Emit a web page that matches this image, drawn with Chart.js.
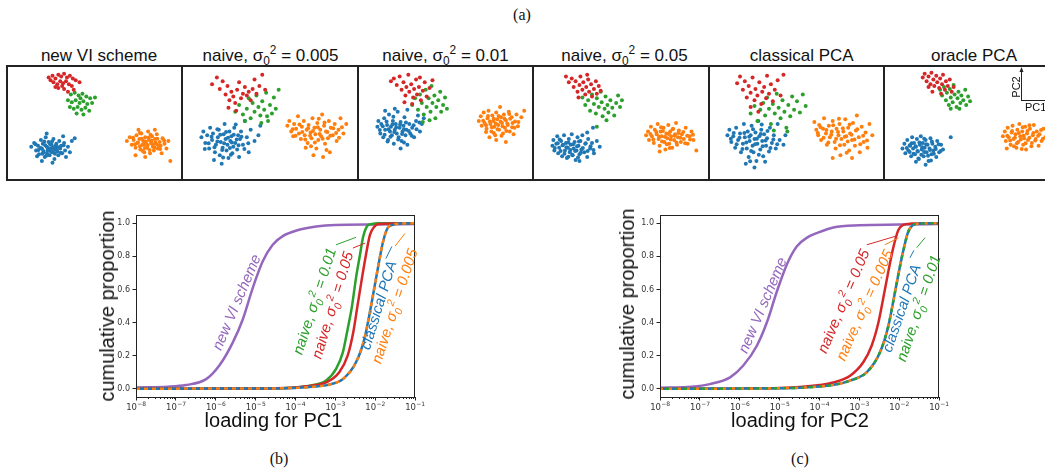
<!DOCTYPE html>
<html>
<head>
<meta charset="utf-8">
<script src="https://cdn.jsdelivr.net/npm/chart.js"></script>
<style>
	html, body { margin: 0; padding: 0; background: #fff; }
	body { width: 1045px; height: 471px; overflow: hidden; position: relative; font-family: 'Liberation Sans', Arial, sans-serif; color: #111; }
	.abs { position: absolute; white-space: nowrap; line-height: 1; }
	.cap { font-family: 'Liberation Serif', 'Times New Roman', serif; font-size: 16px; transform: translate(-50%, -50%); }
	.title { font-size: 17px; transform: translateX(-50%); }
	.panel { position: absolute; top: 65px; width: 177.4px; height: 116px; border: 2px solid #222; box-sizing: border-box; }
	.panel canvas { position: absolute; left: 0; top: 0; }
	.axt { font-size: 20px; transform: translate(-50%, -50%); }
	.lab { font-size: 15px; font-style: italic; }
	sub, sup { font-size: 0.7em; line-height: 0; }
	.curve { position: absolute; top: 205px; }
</style>
</head>
<body>

<div class="abs cap" style="left:522px;top:15px">(a)</div>

<div class="abs title" style="left:99px;top:47px">new VI scheme</div>
<div class="abs title" style="left:270.5px;top:47px">naive, σ<sub>0</sub><sup>2</sup> = 0.005</div>
<div class="abs title" style="left:445.5px;top:47px">naive, σ<sub>0</sub><sup>2</sup> = 0.01</div>
<div class="abs title" style="left:624.5px;top:47px">naive, σ<sub>0</sub><sup>2</sup> = 0.05</div>
<div class="abs title" style="left:801.7px;top:47px">classical PCA</div>
<div class="abs title" style="left:974px;top:47px">oracle PCA</div>

<div id="panels"></div>

<!-- small PC1 / PC2 axes glyph in the oracle panel -->
<svg class="abs" style="left:0;top:0" width="1045" height="200">
	<line x1="1021.5" y1="70" x2="1021.5" y2="101" stroke="#222" stroke-width="1"/>
	<line x1="1021" y1="100.5" x2="1045" y2="100.5" stroke="#222" stroke-width="1"/>
	<polygon points="1021.5,67 1019.5,72 1023.5,72" fill="#222"/>
</svg>
<div class="abs" style="left:1015.5px;top:87px;font-size:11px;transform:translate(-50%,-50%) rotate(-90deg)">PC2</div>
<div class="abs" style="left:1025px;top:102px;font-size:11px">PC1</div>

<canvas id="pc1" class="curve" style="left:100px" width="330" height="215"></canvas>
<canvas id="pc2" class="curve" style="left:624px" width="330" height="215"></canvas>

<div class="abs axt" style="left:106.5px;top:306px;transform:translate(-50%,-50%) rotate(-90deg)">cumulative proportion</div>
<div class="abs axt" style="left:273.5px;top:420px">loading for PC1</div>
<div class="abs axt" style="left:627px;top:304px;transform:translate(-50%,-50%) rotate(-90deg)">cumulative proportion</div>
<div class="abs axt" style="left:800px;top:420px">loading for PC2</div>

<!-- curve labels (b) -->
<div class="abs lab" style="left:236px;top:302px;color:#9467bd;transform:translate(-50%,-50%) rotate(-67deg)">new VI scheme</div>
<div class="abs lab" style="left:313.5px;top:301px;color:#2ca02c;transform:translate(-50%,-50%) rotate(-72deg)">naive, σ<sub>0</sub><sup>2</sup> = 0.01</div>
<div class="abs lab" style="left:331.8px;top:305px;color:#d62728;transform:translate(-50%,-50%) rotate(-73deg)">naive, σ<sub>0</sub><sup>2</sup> = 0.05</div>
<div class="abs lab" style="left:377.7px;top:304.5px;color:#1f77b4;transform:translate(-50%,-50%) rotate(-73deg)">classical PCA</div>
<div class="abs lab" style="left:394.3px;top:306px;color:#ff7f0e;transform:translate(-50%,-50%) rotate(-72deg)">naive, σ<sub>0</sub><sup>2</sup> = 0.005</div>

<!-- curve labels (c) -->
<div class="abs lab" style="left:761.7px;top:305px;color:#9467bd;transform:translate(-50%,-50%) rotate(-67deg)">new VI scheme</div>
<div class="abs lab" style="left:842.5px;top:301px;color:#d62728;transform:translate(-50%,-50%) rotate(-67deg)">naive, σ<sub>0</sub><sup>2</sup> = 0.05</div>
<div class="abs lab" style="left:864px;top:305px;color:#ff7f0e;transform:translate(-50%,-50%) rotate(-66deg)">naive, σ<sub>0</sub><sup>2</sup> = 0.005</div>
<div class="abs lab" style="left:900.8px;top:307.8px;color:#1f77b4;transform:translate(-50%,-50%) rotate(-71deg)">classical PCA</div>
<div class="abs lab" style="left:917.5px;top:307.5px;color:#2ca02c;transform:translate(-50%,-50%) rotate(-71.5deg)">naive, σ<sub>0</sub><sup>2</sup> = 0.01</div>

<div class="abs cap" style="left:279px;top:459px">(b)</div>
<div class="abs cap" style="left:800px;top:459px">(c)</div>

<script>
// ***** COLOURS *****
const BLUE = '#1f77b4', ORANGE = '#ff7f0e', GREEN = '#2ca02c', RED = '#d62728', PURPLE = '#9467bd'

// ***** SCATTER DATA (a) *****
// one string per panel: new VI, naive .005, naive .01, naive .05, classical PCA, oracle PCA
// points are "pc1 pc2" pairs, pc2 grows downward
const redClusters = [
	'40 9,44 7,47 10,50 6,53 8,56 5,59 9,62 7,65 10,68 12,72 14,45 14,49 16,52 13,55 15,58 13,61 16,64 18,50 20,56 21,60 24,47 19,42 12,66 22,54 18',
	'28 16,33 9,36 21,39 13,42 27,44 18,46 33,48 24,50 29,52 36,54 22,56 14,58 31,60 26,62 19,64 28,66 24,68 33,70 21,72 11,74 26,77 18,80 6,83 22,45 41,53 44',
	'31 13,34 10,37 17,40 8,42 22,44 14,46 28,47 19,49 6,50 24,52 16,54 30,55 21,57 11,58 27,60 19,62 33,64 23,66 14,68 29,71 20,74 12,45 35,53 37,61 9',
	'31 8,34 14,37 10,39 19,41 13,43 24,45 17,46 8,48 22,49 14,51 27,52 19,54 11,55 24,57 16,58 29,60 21,62 13,63 26,65 18,67 23,44 30,53 6',
	'26 15,29 8,32 22,34 13,36 30,38 18,40 25,42 9,44 33,45 21,47 28,49 14,51 37,52 24,54 19,56 31,57 7,59 26,61 16,63 34,65 22,68 12,71 28,74 6,40 40,48 45',
	'37 9,39 5,41 13,43 8,45 16,46 4,48 11,49 18,51 7,52 14,54 20,55 10,57 16,58 6,60 22,61 13,63 18,65 11,67 24,69 19,47 24,56 26,43 19',
]
const greenClusters = [
	'63 27,67 25,71 28,75 26,79 29,83 31,88 30,60 33,64 35,68 33,72 36,76 34,80 37,85 36,62 40,66 42,70 40,74 43,78 41,82 44,69 47,76 48,73 31',
	'52 45,56 38,60 48,64 42,66 31,68 52,70 36,72 45,74 28,76 40,78 49,80 34,82 43,84 25,86 55,88 38,90 47,92 30,94 42,97 22,79 57,62 55,85 50',
	'53 38,56 31,59 43,61 27,63 36,65 48,67 22,68 40,70 31,72 45,73 18,74 36,76 28,77 52,78 40,80 33,82 24,83 45,85 38,87 30,89 42,64 56,71 54',
	'48 30,51 38,54 33,56 44,58 27,60 37,62 47,63 31,65 40,67 24,68 35,69 50,71 42,72 29,74 38,75 46,77 33,79 41,81 49,83 36,85 28,87 40,89 33,63 61,73 54',
	'40 47,44 39,47 55,50 43,53 36,55 49,57 30,59 42,61 58,63 37,65 47,67 26,69 41,71 52,73 33,75 45,77 62,79 38,81 50,83 29,85 43,88 34,91 46,94 27,97 39,64 65,78 66',
	'55 22,57 28,59 19,61 33,62 25,64 38,65 21,66 30,68 35,69 17,70 27,72 40,73 31,74 24,76 36,77 28,79 33,81 22,82 38,84 29,86 34,66 42,75 42',
]
const blueClusters = [
	'22 82,25 78,27 86,29 81,30 90,32 75,33 84,34 79,35 88,36 93,37 72,38 82,39 86,40 77,41 91,42 84,43 80,44 88,45 74,46 95,47 83,48 79,49 87,50 91,51 76,52 84,53 81,54 89,56 78,57 86,58 93,60 82,62 88,64 76,67 73,28 92,33 97,44 99,38 68,55 71',
	'17 72,19 66,21 78,23 70,25 84,26 62,28 75,29 68,31 88,32 80,34 72,35 64,36 91,37 77,39 83,40 69,41 58,42 74,43 86,44 80,45 94,46 66,47 76,48 71,49 89,50 82,51 62,52 78,54 85,55 70,56 93,57 74,58 66,60 80,62 55,64 72,66 88,68 64,72 76,76 70,78 60,38 100,30 96',
	'17 61,18 55,20 68,21 58,23 72,24 52,25 64,27 59,28 75,29 48,30 66,31 61,32 70,33 55,34 79,35 64,36 58,37 68,38 45,39 72,40 62,41 56,42 76,43 66,44 60,45 51,46 70,47 64,48 80,50 58,51 68,53 62,55 72,57 55,59 49,61 66,63 58,65 52,25 44,41 84,48 43,35 42',
	'17 81,18 75,19 86,21 79,22 71,23 89,24 83,26 76,27 92,28 80,29 70,30 86,31 78,32 94,33 83,34 74,35 88,36 80,37 69,38 91,39 84,40 77,41 96,42 86,43 72,44 81,45 90,46 76,47 85,48 70,50 88,51 79,53 93,54 74,56 84,58 78,60 89,63 76,66 82,45 97,53 67,59 62',
	'16 70,18 64,20 77,22 71,24 83,25 62,27 75,29 68,30 88,32 79,33 58,34 72,36 84,37 66,38 93,39 76,40 70,41 60,42 81,43 88,44 74,45 67,46 97,47 79,48 55,49 71,50 85,51 64,52 76,53 92,54 69,56 81,57 73,59 87,60 62,62 78,64 70,66 84,68 58,70 75,74 80,76 70,44 104,35 100,55 98',
	'16 84,18 79,19 89,21 75,22 86,24 81,25 92,26 72,27 84,28 78,29 90,30 82,31 74,32 87,33 95,34 80,35 71,36 85,37 78,38 92,39 83,40 75,41 88,42 80,43 97,44 84,45 73,46 90,47 79,48 86,50 82,51 93,52 76,54 88,56 80,58 85,66 72,40 101,30 98',
]
// extra points in the dense middle of the blue blobs
const blueCores = [
	'31.5 83.5,34.5 86.5,36.5 80.5,38.5 89.5,39.5 83.5,41.5 79.5,42.5 87.5,44.5 82.5,45.5 85.5,47.5 80.5,35.5 76.5,37.5 91.5,40.5 85.5,43.5 76.5,46.5 89.5,48.5 85.5,33.5 89.5,29.5 85.5,50.5 82.5,52.5 88.5,26.5 79.5,55.5 80.5',
	'24.5 78.5,27.5 71.5,30.5 82.5,33.5 76.5,36.5 69.5,38.5 85.5,40.5 78.5,42.5 66.5,44.5 72.5,46.5 83.5,48.5 77.5,50.5 69.5,53.5 74.5,55.5 80.5,58.5 71.5,61.5 84.5,39.5 93.5,47.5 90.5,33.5 63.5,52.5 58.5,65.5 78.5,20.5 84.5',
	'19.5 64.5,22.5 60.5,24.5 69.5,26.5 55.5,28.5 63.5,30.5 71.5,32.5 58.5,34.5 66.5,36.5 61.5,38.5 74.5,40.5 58.5,42.5 68.5,44.5 63.5,46.5 56.5,49.5 65.5,52.5 70.5,54.5 59.5,57.5 63.5,33.5 50.5,44.5 77.5,60.5 56.5,27.5 76.5',
	'19.5 83.5,22.5 78.5,25.5 86.5,27.5 80.5,29.5 89.5,31.5 82.5,33.5 77.5,35.5 85.5,37.5 90.5,38.5 79.5,40.5 86.5,42.5 81.5,44.5 76.5,46.5 88.5,48.5 83.5,51.5 78.5,53.5 86.5,56.5 81.5,59.5 85.5,33.5 92.5,43.5 93.5,24.5 74.5',
	'19.5 73.5,22.5 67.5,25.5 79.5,28.5 72.5,31.5 84.5,33.5 67.5,35.5 77.5,38.5 71.5,40.5 86.5,42.5 63.5,44.5 79.5,46.5 73.5,48.5 90.5,50.5 68.5,52.5 81.5,55.5 75.5,57.5 65.5,60.5 83.5,63.5 74.5,67.5 79.5,39.5 97.5,51.5 58.5',
	'20.5 83.5,23.5 87.5,25.5 78.5,27.5 89.5,29.5 81.5,31.5 86.5,33.5 77.5,35.5 90.5,36.5 82.5,38.5 87.5,40.5 79.5,42.5 91.5,44.5 85.5,46.5 76.5,48.5 89.5,50.5 84.5,53.5 79.5,55.5 86.5,32.5 94.5,45.5 96.5,38.5 73.5,23.5 80.5',
]
const orangeClusters = [
	'121 76,124 72,126 80,128 75,130 83,131 70,132 78,134 74,135 85,136 68,137 80,138 76,139 88,140 72,141 79,142 83,143 66,144 75,145 89,146 78,147 71,148 82,149 86,150 74,151 79,152 69,153 84,155 77,156 81,158 73,160 79,162 84,164 76,130 91,166 97,140 93,157 89,133 64,150 64',
	'106 60,108 55,110 66,112 71,113 58,115 63,117 50,118 68,120 74,121 61,123 55,124 70,126 64,127 78,128 59,130 67,131 73,132 52,134 62,135 69,136 84,137 57,138 75,140 64,141 71,142 48,144 60,145 79,146 66,148 73,149 55,150 88,151 62,153 70,155 58,157 76,159 64,161 52,164 68,167 58,133 91,143 93,125 83',
	'122 55,124 50,125 60,127 46,128 57,130 63,131 52,132 44,134 58,135 66,136 49,137 55,138 61,139 70,140 46,141 53,142 59,143 64,144 40,145 51,146 57,147 68,148 48,149 62,150 54,152 59,153 45,154 66,156 51,157 57,159 62,161 48,163 56,166 51,169 44,140 75,133 72,150 77,158 69',
	'114 70,116 66,117 75,119 61,120 71,122 78,123 64,125 69,126 58,127 74,128 81,129 66,130 71,132 62,133 77,134 85,135 68,136 73,137 59,138 79,139 66,140 71,141 83,142 63,143 75,144 69,145 57,146 80,147 72,148 65,150 77,151 69,153 74,155 62,157 79,159 71,161 66,163 75,166 86,128 87',
	'106 56,108 64,110 70,111 59,113 75,115 63,116 52,118 68,119 80,121 60,122 72,124 66,125 55,127 77,128 84,129 63,131 70,132 58,133 91,134 74,136 66,137 80,138 53,139 71,141 62,142 86,143 68,145 75,146 57,148 81,149 65,150 49,152 72,153 88,155 61,157 77,159 67,161 83,163 58,166 70,125 94,145 94',
	'120 71,122 66,123 76,125 62,126 72,128 80,129 67,130 60,131 74,133 69,134 83,135 64,136 77,137 58,138 71,140 66,141 80,142 73,143 61,144 85,145 68,146 75,148 63,150 78,151 70,152 59,154 74,155 66,157 81,158 69,160 76,162 63,164 72,167 79,170 68,173 74,124 84',
]
const orangeCores = [
	'132.5 77.5,134.5 81.5,136.5 73.5,138.5 79.5,139.5 83.5,140.5 76.5,142.5 80.5,143.5 72.5,144.5 85.5,146.5 75.5,147.5 79.5,149.5 82.5,150.5 77.5,152.5 73.5,153.5 80.5,137.5 86.5,145.5 69.5,129.5 79.5,155.5 84.5,159.5 75.5,127.5 72.5,134.5 67.5',
	'111.5 63.5,114.5 70.5,118.5 58.5,121.5 66.5,124.5 74.5,127.5 62.5,129.5 70.5,132.5 65.5,134.5 77.5,137.5 61.5,139.5 68.5,142.5 73.5,144.5 56.5,147.5 66.5,150.5 70.5,153.5 62.5,156.5 67.5,159.5 72.5,130.5 81.5,146.5 85.5,138.5 52.5,162.5 61.5',
	'126.5 54.5,129.5 59.5,131.5 49.5,133.5 55.5,135.5 61.5,137.5 52.5,139.5 57.5,141.5 63.5,142.5 49.5,144.5 55.5,146.5 60.5,148.5 52.5,150.5 65.5,151.5 57.5,154.5 52.5,156.5 61.5,159.5 55.5,162.5 60.5,137.5 67.5,145.5 70.5,153.5 47.5,129.5 66.5',
	'118.5 68.5,121.5 74.5,124.5 66.5,127.5 71.5,130.5 76.5,131.5 65.5,133.5 71.5,135.5 79.5,137.5 68.5,139.5 74.5,141.5 63.5,143.5 70.5,145.5 77.5,147.5 67.5,149.5 72.5,152.5 66.5,154.5 78.5,156.5 70.5,159.5 74.5,162.5 69.5,138.5 83.5,129.5 61.5',
	'109.5 67.5,112.5 61.5,115.5 72.5,118.5 64.5,120.5 77.5,123.5 69.5,125.5 59.5,128.5 73.5,130.5 66.5,132.5 80.5,135.5 62.5,137.5 71.5,140.5 76.5,142.5 58.5,144.5 69.5,147.5 74.5,150.5 63.5,153.5 79.5,156.5 70.5,160.5 75.5,139.5 88.5,131.5 52.5',
	'124.5 70.5,127.5 75.5,129.5 65.5,132.5 72.5,134.5 78.5,136.5 67.5,138.5 74.5,140.5 61.5,141.5 70.5,143.5 78.5,145.5 65.5,147.5 72.5,149.5 81.5,151.5 67.5,153.5 75.5,156.5 70.5,159.5 64.5,161.5 73.5,165.5 70.5,147.5 59.5,139.5 84.5,131.5 81.5',
]

// ***** CURVE DATA (b) and (c) *****
// x values are log10(loading), y is cumulative proportion
const tickExps = [-8, -7, -6, -5, -4, -3, -2, -1]
const yTicks = [0, 0.2, 0.4, 0.6, 0.8, 1.0]

const pc1_vi_lx = [-8, -7.2, -6.75, -6.24, -5.91, -5.57, -5.32, -5.07, -4.82, -4.57, -4.3, -3.99, -3.48, -3, -2, -1]
const pc1_vi_y = [0.008, 0.012, 0.022, 0.058, 0.14, 0.28, 0.42, 0.61, 0.77, 0.87, 0.925, 0.955, 0.98, 0.99, 0.993, 0.995]
const pc1_green_lx = [-8, -6, -4.5, -4, -3.65, -3.23, -2.98, -2.81, -2.69, -2.58, -2.48, -2.38, -2.3, -2.21, -2.1, -1.9, -1]
const pc1_green_y = [0, 0.001, 0.003, 0.008, 0.018, 0.05, 0.12, 0.22, 0.36, 0.5, 0.67, 0.81, 0.92, 0.98, 0.995, 1.0, 1.0]
const pc1_red_lx = [-8, -6, -4.5, -4, -3.6, -3.23, -2.9, -2.69, -2.55, -2.44, -2.33, -2.23, -2.13, -2.02, -1.9, -1]
const pc1_red_y = [0, 0.001, 0.003, 0.008, 0.018, 0.038, 0.1, 0.2, 0.34, 0.505, 0.67, 0.81, 0.93, 0.98, 0.995, 1.0]
// classical PCA and naive 0.005 lie on top of each other
const pc1_pca_lx = [-8, -6, -4.5, -4, -3.5, -3.1, -2.81, -2.48, -2.27, -2.15, -2.02, -1.9, -1.8, -1.69, -1.56, -1.4, -1]
const pc1_pca_y = [0, 0.001, 0.002, 0.005, 0.013, 0.028, 0.058, 0.16, 0.3, 0.44, 0.61, 0.77, 0.89, 0.97, 0.99, 0.998, 1.0]

const pc2_vi_lx = [-8, -7.2, -6.75, -6.24, -5.91, -5.57, -5.32, -5.07, -4.82, -4.57, -4.3, -4.07, -3.65, -3, -2, -1]
const pc2_vi_y = [0.006, 0.012, 0.028, 0.069, 0.14, 0.26, 0.4, 0.586, 0.75, 0.86, 0.915, 0.94, 0.975, 0.988, 0.992, 0.995]
const pc2_red_lx = [-8, -6, -5, -4.5, -4, -3.65, -3.23, -2.9, -2.69, -2.52, -2.4, -2.27, -2.15, -2.02, -1.9, -1.7, -1]
const pc2_red_y = [0, 0.002, 0.005, 0.01, 0.022, 0.038, 0.079, 0.16, 0.26, 0.4, 0.545, 0.71, 0.85, 0.96, 0.99, 0.998, 1.0]
// classical PCA, naive 0.005 and naive 0.01 overlap
const pc2_pca_lx = [-8, -6, -5, -4.5, -4, -3.6, -3.23, -2.81, -2.48, -2.27, -2.15, -2.02, -1.9, -1.77, -1.65, -1.5, -1]
const pc2_pca_y = [0, 0.001, 0.003, 0.006, 0.013, 0.025, 0.049, 0.1, 0.22, 0.38, 0.525, 0.69, 0.83, 0.95, 0.99, 0.998, 1.0]

// leader lines from the labels to the curves, in (log10 loading, proportion)
const pc1Leaders = [
	{ c: GREEN, x1: -2.98, y1: 0.87, x2: -2.48, y2: 0.915 },
	{ c: RED, x1: -2.56, y1: 0.85, x2: -2.25, y2: 0.88 },
	{ c: BLUE, x1: -1.73, y1: 0.787, x2: -1.58, y2: 0.86 },
	{ c: ORANGE, x1: -1.5, y1: 0.862, x2: -1.25, y2: 0.939 },
]
const pc2Leaders = [
	{ c: RED, x1: -2.81, y1: 0.87, x2: -2.1, y2: 0.921 },
	{ c: ORANGE, x1: -2.36, y1: 0.87, x2: -2.02, y2: 0.911 },
	{ c: BLUE, x1: -1.73, y1: 0.791, x2: -1.63, y2: 0.836 },
	{ c: GREEN, x1: -1.56, y1: 0.852, x2: -1.35, y2: 0.913 },
]

// ***** HELPERS *****
function parsePoints(str) {
	return str.split(',').map((p) => {
		let [x, y] = p.trim().split(' ').map(Number)
		return { x: x, y: y }
	})
}

function curvePoints(lx, ys) {
	return lx.map((e, i) => ({ x: Math.pow(10, e), y: ys[i] }))
}

// ***** SCATTER PANELS *****
let panelHolder = document.getElementById('panels')
for (let i = 0; i < 6; i++) {
	let div = document.createElement('div')
	div.className = 'panel'
	div.style.left = 6 + 175.4 * i + 'px'
	let cv = document.createElement('canvas')
	cv.width = 173
	cv.height = 112
	div.appendChild(cv)
	panelHolder.appendChild(div)

	let dot = (pts, color) => ({
		data: parsePoints(pts),
		backgroundColor: color,
		borderWidth: 0,
		pointRadius: 2,
		pointHoverRadius: 2,
	})

	new Chart(cv.getContext('2d'), {
		type: 'scatter',
		data: {
			datasets: [
				dot(redClusters[i], RED),
				dot(greenClusters[i], GREEN),
				dot(orangeClusters[i] + ',' + orangeCores[i], ORANGE),
				dot(blueClusters[i] + ',' + blueCores[i], BLUE),
			],
		},
		options: {
			responsive: false,
			animation: false,
			layout: { padding: 0 },
			plugins: { legend: { display: false }, tooltip: { enabled: false } },
			scales: {
				x: { display: false, min: 0, max: 175 },
				y: { display: false, min: 0, max: 114, reverse: true },
			},
		},
	})
}

// ***** CURVE CHARTS *****
// frame on all four sides, 10^n tick labels, log minor ticks and label leader lines
const framePlugin = {
	id: 'frame',
	afterDraw(chart, args, opts) {
		let ctx = chart.ctx
		let a = chart.chartArea
		let xs = chart.scales.x
		let ys = chart.scales.y
		ctx.save()
		ctx.strokeStyle = '#222'
		ctx.lineWidth = 1
		ctx.strokeRect(a.left + 0.5, a.top + 0.5, a.right - a.left - 1, a.bottom - a.top)

		// minor ticks
		ctx.beginPath()
		for (let e = -8; e < -1; e++) {
			for (let k = 2; k < 10; k++) {
				let px = Math.round(xs.getPixelForValue(k * Math.pow(10, e))) + 0.5
				ctx.moveTo(px, a.bottom)
				ctx.lineTo(px, a.bottom + 2)
			}
		}
		ctx.stroke()

		// tick labels, "10" with a raised exponent
		ctx.fillStyle = '#333'
		ctx.textBaseline = 'alphabetic'
		ctx.textAlign = 'left'
		for (let e of tickExps) {
			let px = xs.getPixelForValue(Math.pow(10, e))
			let exp = '\u2212' + Math.abs(e)
			ctx.font = '8.5px "DejaVu Sans"'
			let wBase = ctx.measureText('10').width
			ctx.font = '6px "DejaVu Sans"'
			let wExp = ctx.measureText(exp).width
			let x0 = px - (wBase + wExp) / 2
			ctx.font = '8.5px "DejaVu Sans"'
			ctx.fillText('10', x0, a.bottom + 12.5)
			ctx.font = '6px "DejaVu Sans"'
			ctx.fillText(exp, x0 + wBase + 0.3, a.bottom + 8.5)
		}

		// leaders
		ctx.lineWidth = 1
		for (let l of opts.leaders) {
			ctx.strokeStyle = l.c
			ctx.beginPath()
			ctx.moveTo(xs.getPixelForValue(Math.pow(10, l.x1)), ys.getPixelForValue(l.y1))
			ctx.lineTo(xs.getPixelForValue(Math.pow(10, l.x2)), ys.getPixelForValue(l.y2))
			ctx.stroke()
		}
		ctx.restore()
	},
}

function line(data, color, order, dash, dashOffset) {
	return {
		data: data,
		borderColor: color,
		borderWidth: 2.5,
		pointRadius: 0,
		fill: false,
		cubicInterpolationMode: 'monotone',
		borderDash: dash || [],
		borderDashOffset: dashOffset || 0,
		order: order,
	}
}

function curveChart(id, datasets, leaders) {
	return new Chart(document.getElementById(id).getContext('2d'), {
		type: 'line',
		data: { datasets: datasets },
		plugins: [framePlugin],
		options: {
			responsive: false,
			animation: false,
			layout: { padding: { left: 6, top: 10, right: 15, bottom: 0 } },
			plugins: { legend: { display: false }, tooltip: { enabled: false }, frame: { leaders: leaders } },
			scales: {
				x: {
					type: 'logarithmic',
					min: 1e-8,
					max: 1e-1,
					afterBuildTicks: (s) => {
						s.ticks = tickExps.map((e) => ({ value: Math.pow(10, e) }))
					},
					afterFit: (s) => {
						s.height = 23
					},
					ticks: { display: false },
					grid: { drawOnChartArea: false, tickLength: 3.5, color: '#222' },
					border: { color: '#222' },
				},
				y: {
					min: -0.05,
					max: 1.05,
					afterBuildTicks: (s) => {
						s.ticks = yTicks.map((v) => ({ value: v }))
					},
					afterFit: (s) => {
						s.width = 30
					},
					ticks: {
						callback: (v) => v.toFixed(1),
						padding: 2.5,
						color: '#333',
						font: { family: 'DejaVu Sans', size: 8 },
					},
					grid: { drawOnChartArea: false, tickLength: 3.5, color: '#222' },
					border: { color: '#222' },
				},
			},
		},
	})
}

let pc1Chart = curveChart('pc1', [
	line(curvePoints(pc1_pca_lx, pc1_pca_y), ORANGE, 0, [4, 4]),
	line(curvePoints(pc1_pca_lx, pc1_pca_y), BLUE, 1),
	line(curvePoints(pc1_red_lx, pc1_red_y), RED, 2),
	line(curvePoints(pc1_green_lx, pc1_green_y), GREEN, 3),
	line(curvePoints(pc1_vi_lx, pc1_vi_y), PURPLE, 4),
], pc1Leaders)

let pc2Chart = curveChart('pc2', [
	line(curvePoints(pc2_pca_lx, pc2_pca_y), GREEN, 0, [3, 6], 3),
	line(curvePoints(pc2_pca_lx, pc2_pca_y), ORANGE, 1, [3, 6], 0),
	line(curvePoints(pc2_pca_lx, pc2_pca_y), BLUE, 2),
	line(curvePoints(pc2_red_lx, pc2_red_y), RED, 3),
	line(curvePoints(pc2_vi_lx, pc2_vi_y), PURPLE, 4),
], pc2Leaders)
</script>
</body>
</html>
